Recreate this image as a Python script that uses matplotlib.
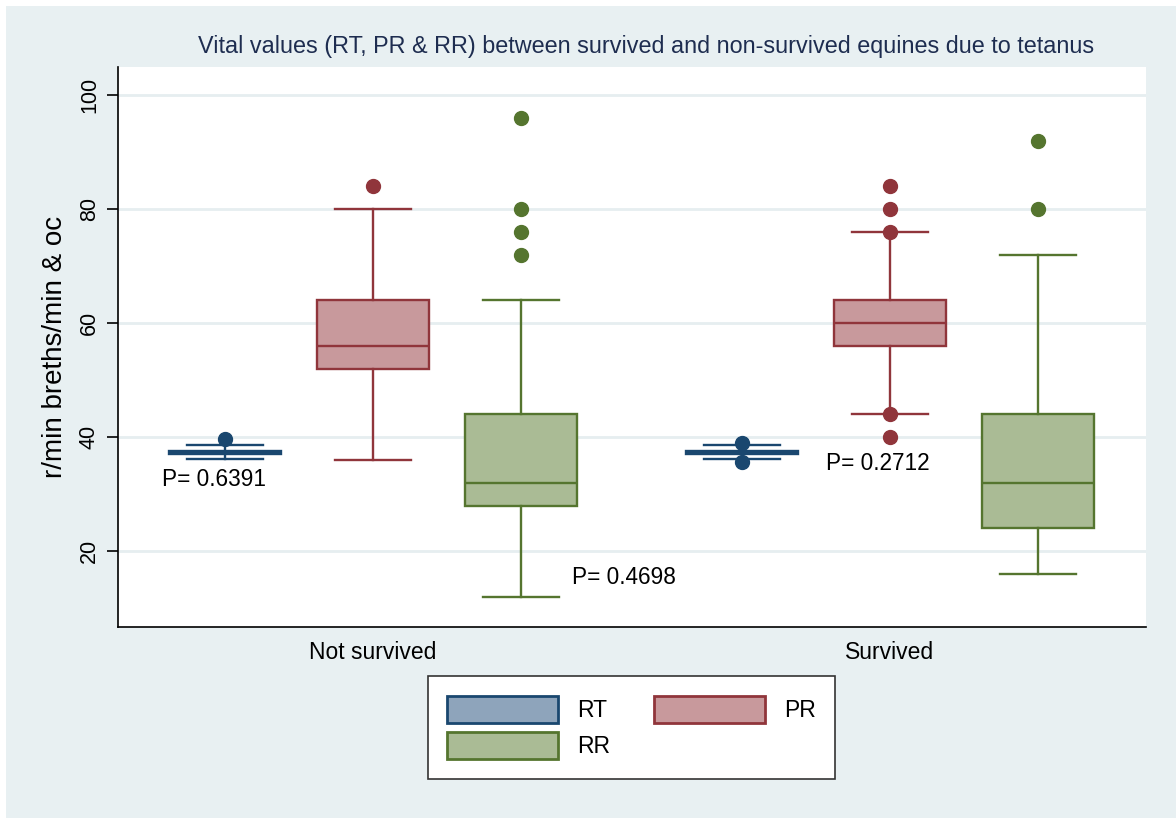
import matplotlib
matplotlib.use("Agg")
import matplotlib.pyplot as plt
from matplotlib.patches import Patch, Rectangle

plt.rcParams['font.family'] = ['Liberation Sans', 'DejaVu Sans']

groups = ["Not survived", "Survived"]
variables = ["RT", "PR", "RR"]
edge_colors = {"RT": "#1a476f", "PR": "#90353b", "RR": "#55752f"}
fill_colors = {"RT": "#8ea4bb", "PR": "#c8999c", "RR": "#aabb95"}

# per group: [whislo, q1, med, q3, whishi]
RT_stats = [[36.1, 37.0, 37.3, 37.6, 38.7], [36.2, 37.0, 37.3, 37.6, 38.7]]
PR_stats = [[36, 52, 56, 64, 80], [44, 56, 60, 64, 76]]
RR_stats = [[12, 28, 32, 44, 64], [16, 24, 32, 44, 72]]
RT_fliers = [[39.6], [38.9, 35.6]]
PR_fliers = [[84], [84, 80, 76, 44, 40]]
RR_fliers = [[96, 80, 76, 72], [92, 80]]

p_labels = ["P= 0.6391", "P= 0.4698", "P= 0.2712"]
p_x = [-0.408, 0.385, 0.876]
p_y = [32.6, 15.4, 35.4]

title = "Vital values (RT, PR & RR) between survived and non-survived equines due to tetanus"
ylabel = "r/min breths/min & oc"
yticks = [20, 40, 60, 80, 100]

stats_all = {"RT": RT_stats, "PR": PR_stats, "RR": RR_stats}
fliers_all = {"RT": RT_fliers, "PR": PR_fliers, "RR": RR_fliers}

fig = plt.figure(figsize=(11.76, 8.18), dpi=100)
bg = "#e8f0f2"
fig.patch.set_facecolor("white")
fig.patches.append(Rectangle((6/1176, 0), 1, 1 - 6/818,
                             transform=fig.transFigure, facecolor=bg,
                             edgecolor="none", zorder=-10))
ax = fig.add_axes([118/1176, 1 - 627/818, (1146 - 118)/1176, (627 - 67)/818])
ax.set_facecolor("white")

offset = 0.286
width = 0.217
capw = 0.147
lw = 1.7
for gi, g in enumerate(groups):
    for vi, v in enumerate(variables):
        s = stats_all[v][gi]
        st = dict(whislo=s[0], q1=s[1], med=s[2], q3=s[3], whishi=s[4],
                  fliers=fliers_all[v][gi], label=v)
        ec = edge_colors[v]
        ax.bxp([st], positions=[gi + (vi - 1) * offset], widths=width,
               patch_artist=True, showfliers=True,
               boxprops=dict(facecolor=fill_colors[v], edgecolor=ec, linewidth=lw),
               medianprops=dict(color=ec, linewidth=lw),
               whiskerprops=dict(color=ec, linewidth=lw),
               capprops=dict(color=ec, linewidth=lw),
               capwidths=capw,
               flierprops=dict(marker="o", markerfacecolor=ec, markeredgecolor=ec,
                               markersize=10))

for t, x, y in zip(p_labels, p_x, p_y):
    ax.text(x, y, t, fontsize=16.3, va="center", ha="left", color="black")

ax.set_xlim(-0.493, 1.495)
ax.set_ylim(6.7, 104.9)
ax.set_xticks([0, 1])
ax.set_xticklabels(groups, fontsize=16.5)
ax.tick_params(axis="x", length=0, pad=10)
ax.set_yticks(yticks)
ax.set_yticklabels([str(t) for t in yticks], fontsize=15.5, rotation=90, va="center")
ax.tick_params(axis="y", length=8, width=1.2, pad=5)
ax.yaxis.grid(True, color="#e6eef0", linewidth=2)
ax.set_axisbelow(True)
for sp in ["top", "right"]:
    ax.spines[sp].set_visible(False)
for sp in ["left", "bottom"]:
    ax.spines[sp].set_linewidth(1.2)
ax.set_ylabel(ylabel, fontsize=20, labelpad=8)

fig.text(646/1176, 1 - 47/818, title, fontsize=16.8, color="#1e2d50",
         ha="center", va="center")

order = ["RT", "RR", "PR"]
handles = [Patch(facecolor=fill_colors[v], edgecolor=edge_colors[v], linewidth=2, label=v)
           for v in order]
leg = fig.legend(handles=handles, labels=order, ncol=2,
                 loc="center", bbox_to_anchor=(631.5/1176, 1 - 727.5/818),
                 fontsize=16.5, frameon=True, fancybox=False, framealpha=1,
                 handlelength=4.85, handleheight=1.45, handletextpad=0.83,
                 columnspacing=1.9, borderpad=0.85, labelspacing=0.4)
leg.get_frame().set_edgecolor("#333333")
leg.get_frame().set_linewidth(1.2)

fig.savefig("out.png", dpi=100, facecolor=fig.get_facecolor())
